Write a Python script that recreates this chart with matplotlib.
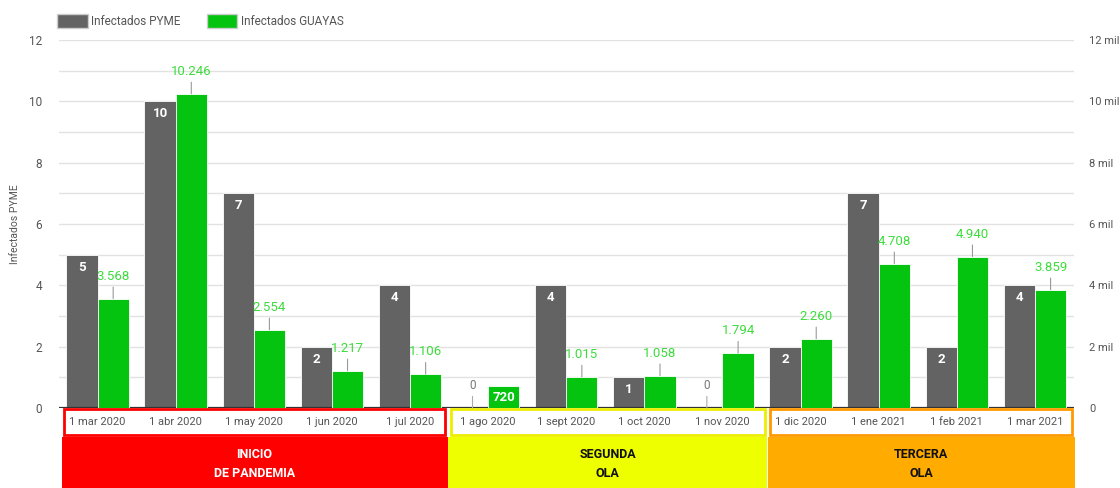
import matplotlib
matplotlib.use("Agg")
import matplotlib.pyplot as plt
from matplotlib.patches import Rectangle, Patch
import matplotlib.transforms as mtransforms

categories = ["1 mar 2020", "1 abr 2020", "1 may 2020", "1 jun 2020", "1 jul 2020",
              "1 ago 2020", "1 sept 2020", "1 oct 2020", "1 nov 2020",
              "1 dic 2020", "1 ene 2021", "1 feb 2021", "1 mar 2021"]
pyme = [5, 10, 7, 2, 4, 0, 4, 1, 0, 2, 7, 2, 4]
guayas = [3568, 10246, 2554, 1217, 1106, 720, 1015, 1058, 1794, 2260, 4708, 4940, 3859]
guayas_labels = ["3.568", "10.246", "2.554", "1.217", "1.106", "720", "1.015", "1.058",
                 "1.794", "2.260", "4.708", "4.940", "3.859"]
left_ticks = [0, 2, 4, 6, 8, 10, 12]
right_ticks = [0, 2000, 4000, 6000, 8000, 10000, 12000]
right_tick_labels = ["0", "2 mil", "4 mil", "6 mil", "8 mil", "10 mil", "12 mil"]
phases = [("INICIO\nDE PANDEMIA", 0, 4), ("SEGUNDA\nOLA", 5, 8), ("TERCERA\nOLA", 9, 12)]
phase_colors = ["#ff0000", "#eeff00", "#ffab00"]
phase_border = ["#ff0000", "#eeee00", "#ff9900"]
phase_text_colors = ["white", "#111111", "#111111"]

GRAY = "#636363"
GREEN = "#05c40f"
LGREEN = "#3ddc3d"
TXT = "#555555"

plt.rcParams['font.family'] = ['Roboto', 'DejaVu Sans']

fig = plt.figure(figsize=(11.2, 4.88), dpi=100)
ax = fig.add_axes([58.5/1120, 1-408/488, (1074-58.5)/1120, 368/488])
ax2 = ax.twinx()

x = list(range(len(categories)))
w = 0.4
xg = [i - w/2 for i in x]
xr = [i + w/2 for i in x]

ax.bar(xg, pyme, width=w, color=GRAY, edgecolor="white", linewidth=0.6, zorder=3)
ax2.bar(xr, guayas, width=w, color=GREEN, edgecolor="white", linewidth=0.6, zorder=3)

ax.set_xlim(-0.5, len(categories) - 0.5)
ax.set_ylim(0, 12)
ax2.set_ylim(0, 12000)

# grid
for v in range(0, 13):
    ax.axhline(v, color="#e2e2e2", lw=1, zorder=0)
ax.axhline(0, color="#333333", lw=1.6, zorder=4)

for a in (ax, ax2):
    for s in a.spines.values():
        s.set_visible(False)
ax.set_yticks(left_ticks)
ax.set_yticklabels([str(t) for t in left_ticks])
ax2.set_yticks(right_ticks)
ax2.set_yticklabels(right_tick_labels)
ax.tick_params(axis="y", length=0, pad=12, labelsize=8.5, labelcolor=TXT)
ax2.tick_params(axis="y", length=0, pad=11, labelsize=8, labelcolor=TXT)
ax.set_xticks(x)
ax.set_xticklabels(categories)
ax.tick_params(axis="x", length=0, pad=6.5, labelsize=8, labelcolor=TXT)
ax.set_ylabel("Infectados PYME", fontsize=7.5, color=TXT, labelpad=6)

# gray bar labels
for xi, v in zip(xg, pyme):
    if v > 0:
        ax.annotate(str(v), (xi, v), xytext=(0, -9), textcoords="offset points",
                    ha="center", va="center", color="white", fontsize=9.5,
                    fontweight="bold", zorder=5)
    else:
        ax.annotate(str(v), (xi, v), xytext=(0, 16), textcoords="offset points",
                    ha="center", va="center", color="#777777", fontsize=8.5,
                    arrowprops=dict(arrowstyle="-", color="#aaaaaa", lw=0.8,
                                    shrinkA=1, shrinkB=0),
                    zorder=5)

# green bar labels
for xi, v, lab in zip(xr, guayas, guayas_labels):
    if v < 1000:
        ax2.annotate(lab, (xi, v), xytext=(0, -8), textcoords="offset points",
                     ha="center", va="center", color="white", fontsize=9.5,
                     fontweight="bold", zorder=5)
    else:
        ax2.annotate(lab, (xi, v), xytext=(0, 16), textcoords="offset points",
                     ha="center", va="center", color=LGREEN, fontsize=9.5,
                     arrowprops=dict(arrowstyle="-", color="#999999", lw=0.8,
                                     shrinkA=1, shrinkB=0),
                     zorder=5)

# phase boxes below
trans = mtransforms.blended_transform_factory(ax.transData, ax.transAxes)
bounds = [(-0.46, 4.48), (4.49, 8.57), (8.58, 12.51)]
for (label, s, e), (b0, b1), fc, bc, tc in zip(phases, bounds, phase_colors, phase_border, phase_text_colors):
    ax.add_patch(Rectangle((b0 + 0.03, -0.073), b1 - b0 - 0.06, 0.07, transform=trans,
                           facecolor="white", edgecolor=bc, lw=2, clip_on=False, zorder=1))
    ax.add_patch(Rectangle((b0, -0.222), b1 - b0, 0.142, transform=trans,
                           facecolor=fc, edgecolor="none", clip_on=False, zorder=1))
    ax.text((b0 + b1) / 2, -0.152, label, transform=trans, ha="center", va="center",
            color=tc, fontsize=9, fontweight="bold", linespacing=1.6, clip_on=False)

# legend
handles = [Patch(facecolor=GRAY, edgecolor="#cccccc", label="Infectados PYME"),
           Patch(facecolor=GREEN, edgecolor="#cccccc", label="Infectados GUAYAS")]
fig.legend(handles=handles, loc="center left", bbox_to_anchor=(57/1120, 1 - 21/488),
           ncol=2, frameon=False, fontsize=8.5, labelcolor=TXT, handlelength=2.6,
           handleheight=1.4, handletextpad=0.3, columnspacing=2.2, borderpad=0,
           borderaxespad=0)

fig.savefig("out.png", dpi=100)
